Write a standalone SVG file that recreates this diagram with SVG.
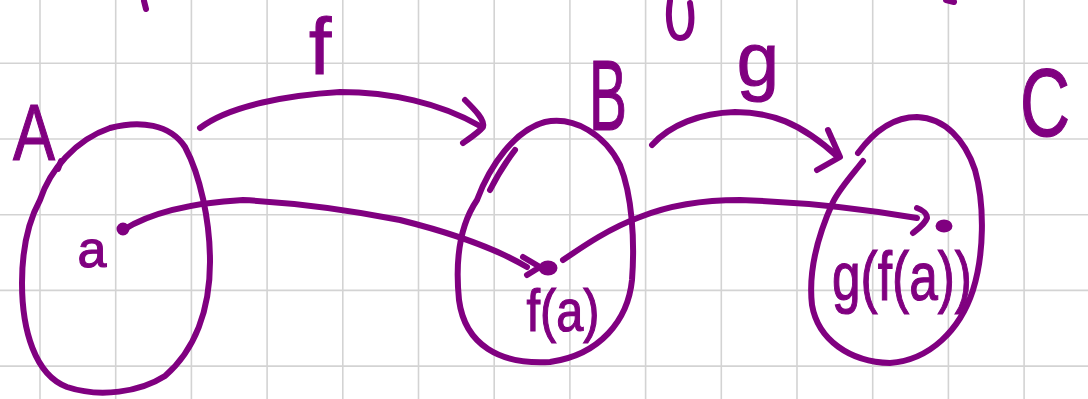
<svg xmlns="http://www.w3.org/2000/svg" width="1088" height="399" viewBox="0 0 1088 399">
<style>
.grid line{stroke:#d3d3d3;stroke-width:1.6}
.ink{fill:none;stroke:#800080;stroke-width:6;stroke-linecap:round;stroke-linejoin:round}
.dot{fill:#800080;stroke:#800080;stroke-width:3}
.lbl{font-family:"Liberation Sans",Arial,sans-serif;fill:#800080;stroke:#800080;stroke-width:1.2;text-anchor:middle}
</style>
<rect width="1088" height="399" fill="#ffffff"/>
<g class="grid">
<line x1="40" y1="0" x2="40" y2="399"/><line x1="115.7" y1="0" x2="115.7" y2="399"/><line x1="191.4" y1="0" x2="191.4" y2="399"/><line x1="267.1" y1="0" x2="267.1" y2="399"/><line x1="342.8" y1="0" x2="342.8" y2="399"/><line x1="418.5" y1="0" x2="418.5" y2="399"/><line x1="494.2" y1="0" x2="494.2" y2="399"/><line x1="569.9" y1="0" x2="569.9" y2="399"/><line x1="645.6" y1="0" x2="645.6" y2="399"/><line x1="721.3" y1="0" x2="721.3" y2="399"/><line x1="797" y1="0" x2="797" y2="399"/><line x1="872.7" y1="0" x2="872.7" y2="399"/><line x1="948.4" y1="0" x2="948.4" y2="399"/><line x1="1024.1" y1="0" x2="1024.1" y2="399"/>
<line x1="0" y1="63.3" x2="1088" y2="63.3"/><line x1="0" y1="139" x2="1088" y2="139"/><line x1="0" y1="214.7" x2="1088" y2="214.7"/><line x1="0" y1="290.4" x2="1088" y2="290.4"/><line x1="0" y1="366.1" x2="1088" y2="366.1"/>
</g>
<g id="fragments">
<path class="ink" d="M144,1 L146,9"/>
<path class="ink" d="M670,1 C667,20 670,38 680,38 C692,38 693,20 690,3"/>
<path class="ink" d="M946,0 L954,2"/>
</g>
<g id="node-A">
<path class="ink" d="M40,200 C50,170 75,140 110,128 C140,120 170,124 185,147 C200,175 210,220 210,262 C210,310 195,350 165,376 C140,392 100,398 67,387 C35,375 22,330 22,283 C22,250 28,222 40,200"/>
<path class="ink" d="M58,169 L61,161"/>
<text class="lbl" x="34" y="160" font-size="80" textLength="42" lengthAdjust="spacingAndGlyphs">A</text>
</g>
<g id="node-B">
<path class="ink" d="M477,200 C490,165 515,130 545,122 C575,116 605,135 620,165 C632,195 635,240 632,280 C628,320 600,355 550,362 C500,365 465,345 459,300 C455,260 460,225 477,200"/>
<path class="ink" d="M490,190 C496,178 505,163 515,150"/>
<text class="lbl" x="608" y="130" font-size="100" textLength="38" lengthAdjust="spacingAndGlyphs">B</text>
</g>
<g id="node-C">
<path class="ink" d="M863,161 C852,175 840,188 833,202 C818,235 808,270 812,305 C818,340 850,362 890,363 C930,360 960,330 973,290 C984,255 985,205 975,170 C965,140 945,118 917,117 C895,117 875,130 858,153"/>
<text class="lbl" x="1045" y="136" font-size="96" textLength="50" lengthAdjust="spacingAndGlyphs">C</text>
</g>
<g id="point-a">
<circle class="dot" cx="123" cy="229" r="5"/>
<text class="lbl" x="92" y="267" font-size="52">a</text>
</g>
<g id="point-fa">
<ellipse class="dot" cx="548" cy="268" rx="8" ry="6"/>
<text class="lbl" x="563" y="331" font-size="60" textLength="73" lengthAdjust="spacingAndGlyphs">f(a)</text>
</g>
<g id="point-gfa">
<ellipse class="dot" cx="944" cy="226" rx="7" ry="5"/>
<text class="lbl" x="902" y="300" font-size="68" textLength="140" lengthAdjust="spacingAndGlyphs">g(f(a))</text>
</g>
<g id="connectors">
<g id="edge-f">
<path class="ink" d="M200,128 C230,105 290,95 340,92 C390,92 440,103 480,126"/>
<path class="ink" d="M465,100 C475,110 485,120 483,127 C478,133 470,138 463,143"/>
<text class="lbl" x="320" y="74" font-size="80">f</text>
</g>
<g id="edge-g">
<path class="ink" d="M652,145 C670,125 700,113 735,112 C770,112 800,122 838,157"/>
<path class="ink" d="M828,130 L840,157 L817,170"/>
<text class="lbl" x="758" y="86" font-size="76">g</text>
</g>
<g id="edge-a-fa">
<path class="ink" d="M123,230 C150,213 190,203 243,200 C300,203 360,212 400,220 C440,230 490,245 527,267"/>
<path class="ink" d="M523,257 L540,267 L527,275"/>
</g>
<g id="edge-fa-gfa">
<path class="ink" d="M563,260 C585,245 610,228 640,217 C670,205 700,200 740,200 C800,202 860,208 917,218"/>
<path class="ink" d="M917,208 C923,210 927,214 927,218 C925,224 918,229 913,233"/>
</g>
</g>
</svg>
